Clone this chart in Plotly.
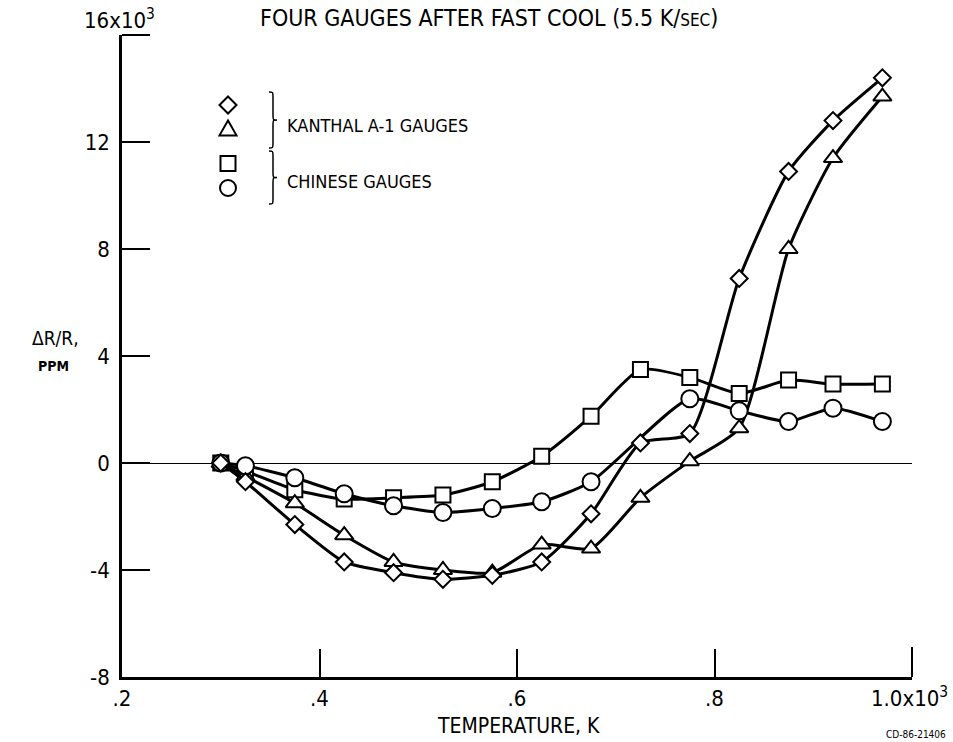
import plotly.graph_objects as go

# ---- data (temperature in 10^3 K, delta R/R in 10^3 ppm) ----
temp_k = [0.30, 0.325, 0.375, 0.425, 0.475, 0.525, 0.575, 0.625, 0.675, 0.725, 0.775, 0.825, 0.875, 0.92, 0.97]
kanthal_1 = [0, -0.7, -2.3, -3.7, -4.1, -4.35, -4.2, -3.7, -1.9, 0.75, 1.1, 6.9, 10.9, 12.8, 14.4]
kanthal_2 = [0, -0.5, -1.5, -2.7, -3.7, -4.0, -4.1, -3.05, -3.2, -1.3, 0.07, 1.3, 8.0, 11.4, 13.7]
chinese_1 = [0, -0.3, -1.0, -1.35, -1.3, -1.2, -0.7, 0.25, 1.75, 3.5, 3.2, 2.6, 3.1, 2.95, 2.95]
temp_k_c2 = [0.30, 0.325, 0.375, 0.425, 0.475, 0.525, 0.575, 0.625, 0.675, 0.775, 0.825, 0.875, 0.92, 0.97]
chinese_2 = [0, -0.1, -0.55, -1.15, -1.6, -1.85, -1.7, -1.45, -0.7, 2.4, 1.95, 1.55, 2.05, 1.55]

x_ticks = [0.2, 0.4, 0.6, 0.8]
x_ticktext = [".2", ".4", ".6", ".8"]
x_last_label = "1.0x10<sup>3</sup>"
y_ticks = [-8, -4, 0, 4, 8, 12]
y_ticktext = ["-8", "-4", "0", "4", "8", "12"]
y_top_label = "16x10<sup>3</sup>"

FONT = "Liberation Sans Narrow, DejaVu Sans Condensed, Arial Narrow, sans-serif"
W, H = 953, 742
# plot area in page pixels
L, R, T, B = 122, 912, 35, 677


def px(x):
    return (x - L) / (R - L)


def py(y):
    return (B - y) / (B - T)


fig = go.Figure()

series = [
    (temp_k, chinese_1, "square", 15, "Chinese gauge 1"),
    (temp_k, kanthal_2, "triangle-up", 16, "Kanthal A-1 gauge 2"),
    (temp_k_c2, chinese_2, "circle", 17, "Chinese gauge 2"),
    (temp_k, kanthal_1, "diamond", 13, "Kanthal A-1 gauge 1"),
]
for xs, ys, sym, size, name in series:
    fig.add_trace(go.Scatter(
        x=xs, y=ys, mode="lines+markers", name=name, showlegend=False,
        line=dict(color="black", width=3, shape="spline", smoothing=0.6),
        marker=dict(symbol=sym, size=size, color="white",
                    line=dict(color="black", width=2)),
    ))


def diamond(cx, cy, r):
    return (f"M {px(cx)},{py(cy - r)} L {px(cx + r)},{py(cy)} "
            f"L {px(cx)},{py(cy + r)} L {px(cx - r)},{py(cy)} Z")


def triangle(cx, cy, r):
    return (f"M {px(cx)},{py(cy - r)} L {px(cx + r)},{py(cy + r * 0.75)} "
            f"L {px(cx - r)},{py(cy + r * 0.75)} Z")


def brace(x0, ytop, ybot):
    ym = (ytop + ybot) / 2
    a, b = x0 + 4, x0 + 8
    return (f"M {px(x0)},{py(ytop)} "
            f"C {px(a)},{py(ytop)} {px(a)},{py(ytop)} {px(a)},{py(ytop + 5)} "
            f"L {px(a)},{py(ym - 5)} "
            f"C {px(a)},{py(ym)} {px(a)},{py(ym)} {px(b)},{py(ym)} "
            f"C {px(a)},{py(ym)} {px(a)},{py(ym)} {px(a)},{py(ym + 5)} "
            f"L {px(a)},{py(ybot - 5)} "
            f"C {px(a)},{py(ybot)} {px(a)},{py(ybot)} {px(x0)},{py(ybot)}")


lw = 2
shapes = [
    # legend key symbols
    dict(type="path", xref="paper", yref="paper", path=diamond(228, 105, 8.5),
         line=dict(color="black", width=lw), fillcolor="white"),
    dict(type="path", xref="paper", yref="paper", path=triangle(228, 129, 8.5),
         line=dict(color="black", width=lw), fillcolor="white"),
    dict(type="rect", xref="paper", yref="paper",
         x0=px(220.5), x1=px(235.5), y0=py(171), y1=py(156),
         line=dict(color="black", width=lw), fillcolor="white"),
    dict(type="circle", xref="paper", yref="paper",
         x0=px(220), x1=px(236), y0=py(196), y1=py(180),
         line=dict(color="black", width=lw), fillcolor="white"),
    dict(type="path", xref="paper", yref="paper", path=brace(269, 92, 148),
         line=dict(color="black", width=1.5)),
    dict(type="path", xref="paper", yref="paper", path=brace(269, 151, 204),
         line=dict(color="black", width=1.5)),
    # top-of-axis tick (16) and right-end tick (1.0)
    dict(type="line", xref="paper", yref="paper", x0=0, x1=px(150), y0=1, y1=1,
         line=dict(color="black", width=2)),
    dict(type="line", xref="paper", yref="paper", x0=1, x1=1, y0=0, y1=py(B - 30),
         line=dict(color="black", width=2)),
]

annotations = [
    dict(text="FOUR GAUGES AFTER FAST COOL (5.5 K/<span style='font-size:17px'>SEC</span>)",
         x=px(258), y=py(18), xref="paper", yref="paper", xanchor="left", yanchor="middle",
         showarrow=False, font=dict(size=23, family=FONT, color="black")),
    dict(text=y_top_label, x=px(119), y=py(19), xref="paper", yref="paper",
         xanchor="center", yanchor="middle", showarrow=False,
         font=dict(size=22, family=FONT, color="black")),
    dict(text=x_last_label, x=px(950), y=py(697), xref="paper", yref="paper",
         xanchor="right", yanchor="middle", showarrow=False,
         font=dict(size=22, family=FONT, color="black")),
    dict(text="KANTHAL A-1 GAUGES", x=px(285), y=py(126), xref="paper", yref="paper",
         xanchor="left", yanchor="middle", showarrow=False,
         font=dict(size=18, family=FONT, color="black")),
    dict(text="CHINESE GAUGES", x=px(285), y=py(182), xref="paper", yref="paper",
         xanchor="left", yanchor="middle", showarrow=False,
         font=dict(size=18, family=FONT, color="black")),
    dict(text="\u0394R/R,", x=px(55), y=py(338), xref="paper", yref="paper",
         xanchor="center", yanchor="middle", showarrow=False,
         font=dict(size=19, family=FONT, color="black")),
    dict(text="<b>PPM</b>", x=px(53), y=py(366), xref="paper", yref="paper",
         xanchor="center", yanchor="middle", showarrow=False,
         font=dict(size=14, family=FONT, color="black")),
    dict(text="TEMPERATURE, K", x=px(518), y=py(726), xref="paper", yref="paper",
         xanchor="center", yanchor="middle", showarrow=False,
         font=dict(size=21, family=FONT, color="black")),
    dict(text="CD-86-21406", x=px(948), y=py(735), xref="paper", yref="paper",
         xanchor="right", yanchor="middle", showarrow=False,
         font=dict(size=10, family=FONT, color="black")),
]

fig.update_layout(
    width=W, height=H,
    margin=dict(l=L, r=W - R, t=T, b=H - B, pad=0),
    paper_bgcolor="white", plot_bgcolor="white",
    shapes=shapes, annotations=annotations,
    font=dict(family=FONT, color="black", size=22),
)
fig.update_xaxes(
    range=[0.2, 1.0], tickvals=x_ticks, ticktext=x_ticktext,
    showgrid=False, zeroline=False, showline=True, linecolor="black", linewidth=2.5,
    ticks="inside", ticklen=28, tickwidth=2, tickcolor="black",
    tickfont=dict(size=22, family=FONT, color="black"),
)
fig.update_yaxes(
    range=[-8, 16], tickvals=y_ticks, ticktext=y_ticktext,
    showgrid=False, zeroline=True, zerolinecolor="black", zerolinewidth=1,
    showline=True, linecolor="black", linewidth=2.5,
    ticks="inside", ticklen=28, tickwidth=2, tickcolor="black",
    ticklabelstandoff=5,
    tickfont=dict(size=22, family=FONT, color="black"),
)

fig.write_html(
    "out.html",
    config={"displayModeBar": False},
    post_script="document.body.style.margin='0px';document.body.style.overflow='hidden';",
)
